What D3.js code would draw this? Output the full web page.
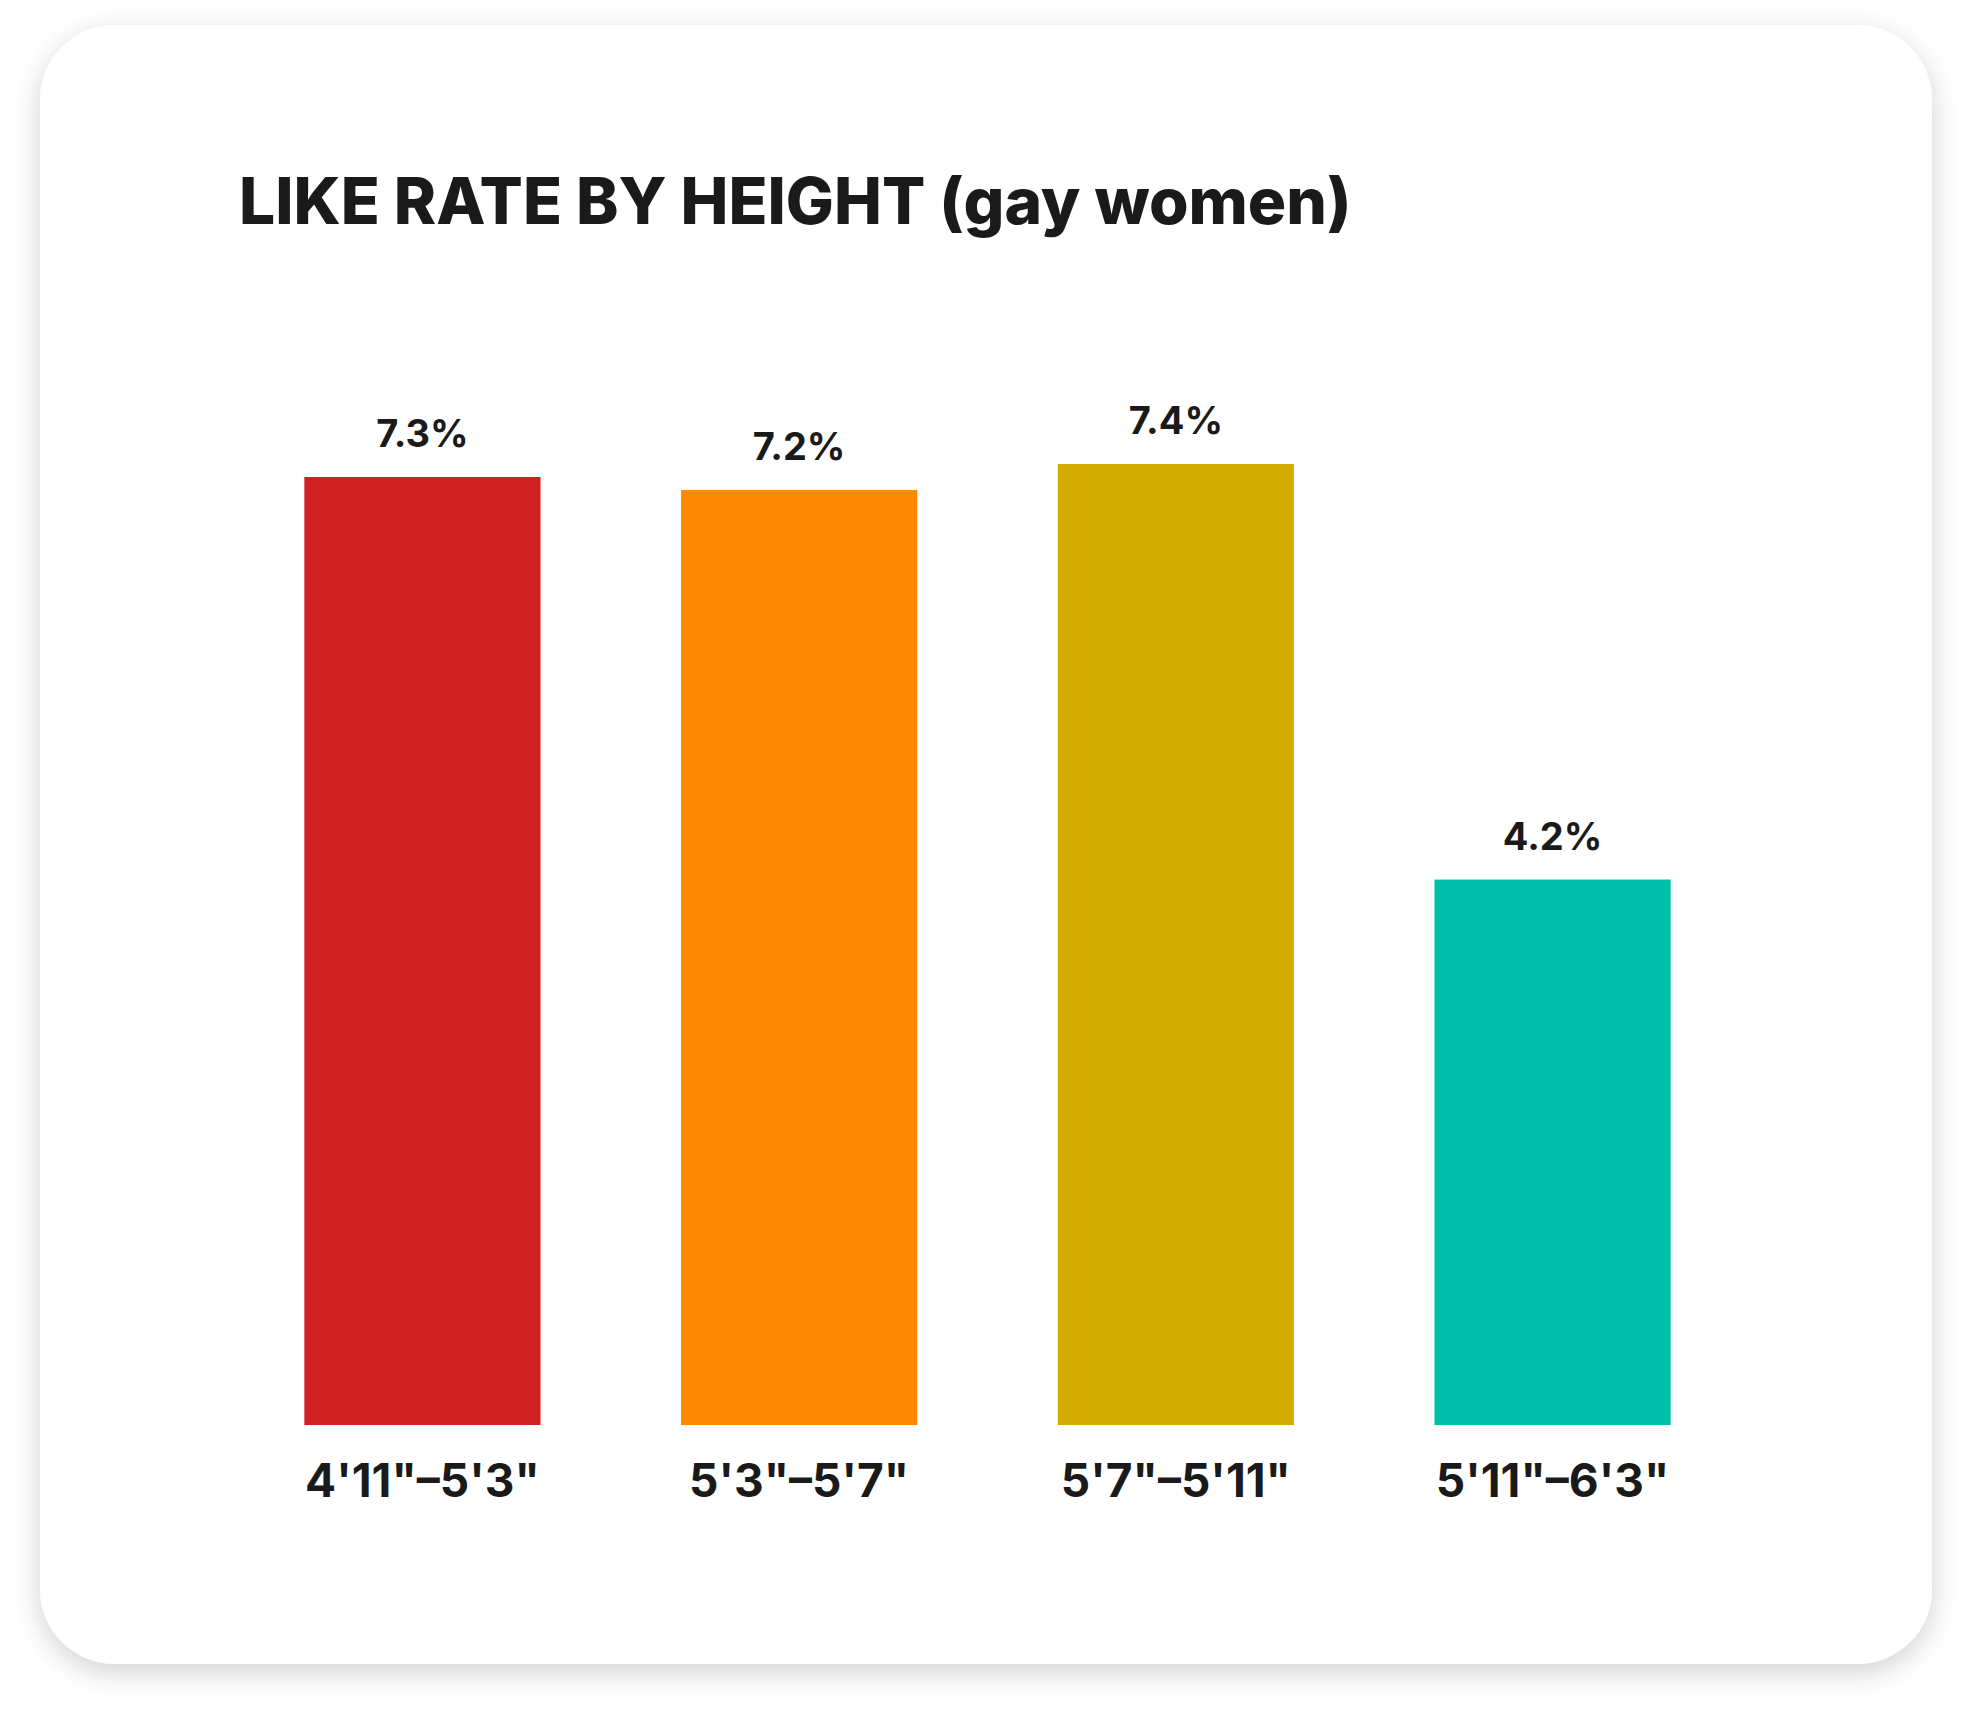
<!DOCTYPE html>
<html><head><meta charset="utf-8">
<script src="https://cdn.jsdelivr.net/npm/d3@7"></script>
<style>body{margin:0;background:#fff}</style></head>
<body><svg></svg>
<script>
const categories = ["4'11\"\u20135'3\"", "5'3\"\u20135'7\"", "5'7\"\u20135'11\"", "5'11\"\u20136'3\""];
const values = [7.3, 7.2, 7.4, 4.2];
const colors = ["#d12020", "#ff8a00", "#d4ac00", "#00bfa8"];

const width = 1972, height = 1720;
const svg = d3.select("svg").attr("width", width).attr("height", height)
  .style("font-family", "Inter, 'DejaVu Sans', sans-serif");

const defs = svg.append("defs");
const f = defs.append("filter").attr("id", "shadow").attr("x", "-10%").attr("y", "-10%").attr("width", "120%").attr("height", "120%");
f.append("feDropShadow").attr("dx", 0).attr("dy", 8).attr("stdDeviation", 14).attr("flood-color", "#000").attr("flood-opacity", 0.18);

// card
svg.append("rect").attr("x", 40).attr("y", 25).attr("width", 1892).attr("height", 1639)
  .attr("rx", 75).attr("fill", "#fff").attr("filter", "url(#shadow)");

svg.append("text").attr("x", 239).attr("y", 224)
  .attr("font-size", 64).attr("font-weight", 800).attr("fill", "#1a1a1a")
  .text("LIKE RATE BY HEIGHT (gay women)");

const baseline = 1425;
const x = d3.scaleBand().domain(categories).range([229, 1746]).paddingInner(0.373).paddingOuter(0.2);
const y = d3.scaleLinear().domain([0, 7.4]).range([baseline, 464]);

const g = svg.append("g");
g.selectAll("rect.bar").data(values).join("rect").attr("class", "bar")
  .attr("x", (d, i) => x(categories[i])).attr("width", x.bandwidth())
  .attr("y", d => y(d)).attr("height", d => baseline - y(d))
  .attr("fill", (d, i) => colors[i]);

g.selectAll("text.val").data(values).join("text").attr("class", "val")
  .attr("x", (d, i) => x(categories[i]) + x.bandwidth() / 2)
  .attr("y", d => y(d) - 30).attr("text-anchor", "middle")
  .attr("font-size", 38).attr("font-weight", 700).attr("fill", "#1a1a1a")
  .text(d => d.toFixed(1) + "%");

const axis = g.append("g").attr("transform", `translate(0,${baseline})`)
  .call(d3.axisBottom(x).tickSize(0).tickPadding(0));
axis.select(".domain").remove();
axis.selectAll("text").attr("dy", null).attr("y", 72)
  .attr("font-size", 46).attr("font-weight", 700).attr("fill", "#1a1a1a")
  .attr("font-family", "Inter, 'DejaVu Sans', sans-serif");
</script></body></html>
